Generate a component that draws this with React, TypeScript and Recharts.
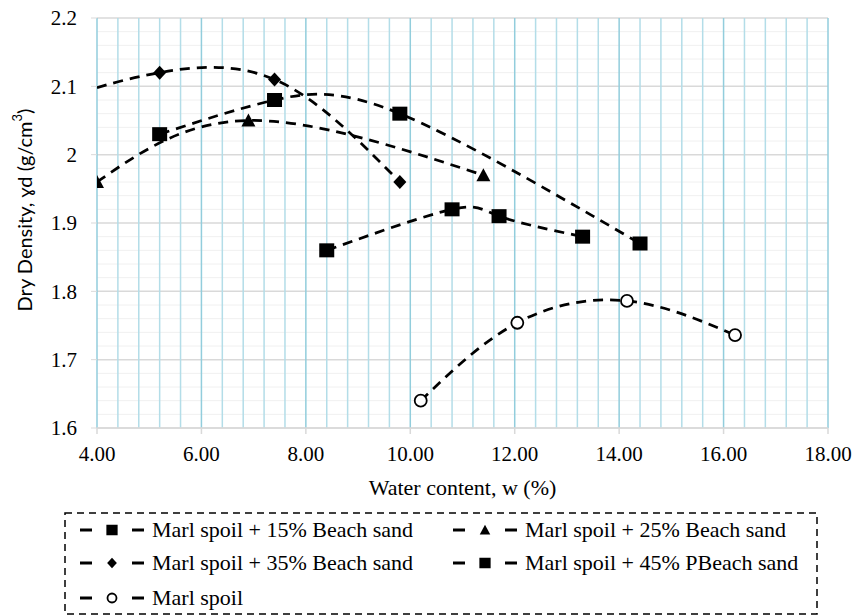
import { LineChart, Line, XAxis, YAxis, ReferenceLine, Label } from "recharts";

const waterTicks = [4, 6, 8, 10, 12, 14, 16, 18];
const densityTicks = [1.6, 1.7, 1.8, 1.9, 2, 2.1, 2.2];

// water content (%) and dry density (g/cm3) for each mix
const sand15Water = [5.2, 7.4, 9.8, 14.4];
const sand15Density = [2.03, 2.08, 2.06, 1.87];
const sand25Water = [4.0, 6.9, 11.4];
const sand25Density = [1.96, 2.05, 1.97];
const sand35Water = [4.0, 5.2, 7.4, 9.8];
const sand35Density = [2.098, 2.12, 2.11, 1.96];
const sand45Water = [8.4, 10.8, 11.7, 13.3];
const sand45Density = [1.86, 1.92, 1.91, 1.88];
const marlWater = [10.2, 12.05, 14.15, 16.22];
const marlDensity = [1.64, 1.754, 1.786, 1.736];

const seriesNames = [
  "Marl spoil + 15% Beach sand",
  "Marl spoil + 25% Beach sand",
  "Marl spoil + 35% Beach sand",
  "Marl spoil + 45% PBeach sand",
  "Marl spoil",
];

type Shape = "square" | "triangle" | "diamond" | "circle";

const toPoints = (w: number[], d: number[]) => w.map((x, i) => ({ x, y: d[i] }));

const series: { name: string; shape: Shape; data: { x: number; y: number }[]; noMarker?: number[] }[] = [
  { name: seriesNames[0], shape: "square", data: toPoints(sand15Water, sand15Density) },
  { name: seriesNames[1], shape: "triangle", data: toPoints(sand25Water, sand25Density) },
  { name: seriesNames[2], shape: "diamond", data: toPoints(sand35Water, sand35Density), noMarker: [0] },
  { name: seriesNames[3], shape: "square", data: toPoints(sand45Water, sand45Density) },
  { name: seriesNames[4], shape: "circle", data: toPoints(marlWater, marlDensity) },
];

// grid values
const minorX: number[] = [];
for (let i = 1; i < 35; i++) if (i % 5 !== 0) minorX.push(Math.round((4 + 0.4 * i) * 10) / 10);
const minorY: number[] = [];
for (let i = 1; i < 30; i++) if (i % 5 !== 0) minorY.push(Math.round((1.6 + 0.02 * i) * 100) / 100);

const serifStyle = { fontFamily: '"Liberation Serif", "Times New Roman", serif' };

const marker = (shape: Shape, cx: number, cy: number, s: number, key?: string) => {
  if (shape === "square")
    return <rect key={key} x={cx - 7.5 * s} y={cy - 7 * s} width={15 * s} height={14 * s} fill="#000" />;
  if (shape === "triangle")
    return (
      <polygon key={key} fill="#000" points={`${cx},${cy - 7 * s} ${cx + 7 * s},${cy + 6 * s} ${cx - 7 * s},${cy + 6 * s}`} />
    );
  if (shape === "diamond")
    return (
      <polygon
        key={key}
        fill="#000"
        points={`${cx},${cy - 7 * s} ${cx + 6.5 * s},${cy} ${cx},${cy + 7 * s} ${cx - 6.5 * s},${cy}`}
      />
    );
  return <circle key={key} cx={cx} cy={cy} r={6 * s} fill="#fff" stroke="#000" strokeWidth={1.8} />;
};

const LegendBox = () => {
  const cols = [80, 453];
  const rows = [530, 563, 598];
  return (
    <svg width={862} height={616} style={{ position: "absolute", left: 0, top: 0, pointerEvents: "none" }}>
      <rect x={65} y={513} width={752} height={101} fill="none" stroke="#000" strokeWidth={1.5} strokeDasharray="7 5" />
      {series.map((s, i) => {
        const x0 = cols[i % 2];
        const y = rows[Math.floor(i / 2)];
        return (
          <g key={s.name}>
            <line x1={x0} x2={x0 + 12} y1={y} y2={y} stroke="#000" strokeWidth={3} />
            {marker(s.shape, x0 + 32, y, 0.75)}
            <line x1={x0 + 52} x2={x0 + 64} y1={y} y2={y} stroke="#000" strokeWidth={3} />
            <text x={x0 + 72} y={y + 7} style={serifStyle} fontSize={22} fill="#000">
              {s.name}
            </text>
          </g>
        );
      })}
    </svg>
  );
};

const YTitle = (props: any) => {
  const { viewBox } = props;
  const x = viewBox.x + 24;
  const y = viewBox.y + viewBox.height / 2 - 13;
  return (
    <text
      x={x}
      y={y}
      transform={`rotate(-90, ${x}, ${y})`}
      textAnchor="middle"
      dominantBaseline="central"
      style={{ fontFamily: "Lato, 'Noto Sans', sans-serif" }}
      fontSize={20}
      fill="#000"
    >
      Dry Density, ɣd (g/cm<tspan dy={-7} fontSize={13}>3</tspan>
      <tspan dy={7}>)</tspan>
    </text>
  );
};

const App = () => {
  return (
    <div style={{ position: "absolute", left: 0, top: 0, width: 862, height: 616, background: "#fff" }}>
      <LineChart width={862} height={616} margin={{ top: 18, right: 34, bottom: 116, left: 0 }}>
        <XAxis
          type="number"
          dataKey="x"
          domain={[4, 18]}
          ticks={waterTicks}
          allowDataOverflow
          tickFormatter={(v: number) => v.toFixed(2)}
          height={72}
          stroke="#d9d9d9"
          strokeWidth={1.5}
          tickSize={6}
          tickMargin={12}
          tick={{ fill: "#000", style: serifStyle, fontSize: 21 }}
        >
          <Label
            value="Water content, w (%)"
            position="insideBottom"
            offset={5}
            fill="#000"
            style={serifStyle}
            fontSize={22}
          />
        </XAxis>
        <YAxis
          type="number"
          domain={[1.6, 2.2]}
          ticks={densityTicks}
          allowDataOverflow
          tickFormatter={(v: number) => String(v)}
          width={97}
          axisLine={false}
          tickLine={{ stroke: "#d9d9d9" }}
          tickSize={6}
          tickMargin={14}
          tick={{ fill: "#000", style: serifStyle, fontSize: 21 }}
        >
          <Label content={<YTitle />} />
        </YAxis>

        {minorY.map((v) => (
          <ReferenceLine key={`my${v}`} y={v} stroke="#f0f0f0" strokeWidth={1} />
        ))}
        {densityTicks.map((v) => (
          <ReferenceLine key={`My${v}`} y={v} stroke="#d9d9d9" strokeWidth={1.5} />
        ))}
        {minorX.map((v) => (
          <ReferenceLine key={`mx${v}`} x={v} stroke="#b3dde8" strokeWidth={1.5} />
        ))}
        {waterTicks.map((v) => (
          <ReferenceLine key={`Mx${v}`} x={v} stroke="#92cddc" strokeWidth={1.5} />
        ))}

        {series.map((s) => (
          <Line
            key={s.name}
            name={s.name}
            data={s.data}
            dataKey="y"
            type="natural"
            stroke="#000"
            strokeWidth={2.75}
            strokeDasharray="10 7"
            isAnimationActive={false}
            dot={(p: any) => {
              if (s.noMarker && s.noMarker.includes(p.index)) return <g key={`d${s.name}${p.index}`} />;
              return marker(s.shape, p.cx, p.cy, 1, `d${s.name}${p.index}`);
            }}
            activeDot={false}
          />
        ))}
      </LineChart>
      <LegendBox />
    </div>
  );
};

export default App;
